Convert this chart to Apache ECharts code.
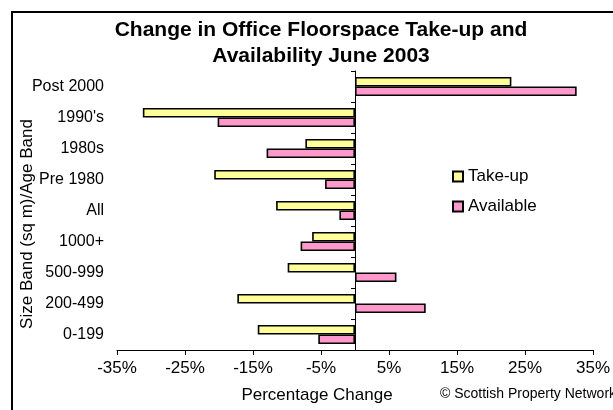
<!DOCTYPE html>
<html>
<head>
<meta charset="utf-8">
<script src="https://cdn.jsdelivr.net/npm/echarts@6/dist/echarts.min.js"></script>
<style>html,body{margin:0;padding:0;background:#fff;}#c{width:613px;height:410px;}</style>
</head>
<body>
<div id="c"></div>
<script>
const categories = ['0-199', '200-499', '500-999', '1000+', 'All', 'Pre 1980', '1980s', "1990's", 'Post 2000'];
const takeUp = [-14.3, -17.3, -9.9, -6.3, -11.6, -20.7, -7.3, -31.2, 23.0];
const available = [-5.4, 10.4, 6.1, -8.0, -2.3, -4.4, -13.0, -20.2, 32.6];
const tickLabels = ['-35%', '-25%', '-15%', '-5%', '5%', '15%', '25%', '35%'];

const FONT = "'Liberation Sans', Arial, sans-serif";
const chart = echarts.init(document.getElementById('c'), null, {renderer: 'canvas'});
chart.setOption({
  animation: false,
  backgroundColor: '#fff',
  textStyle: {fontFamily: FONT, color: '#000'},
  grid: {left: 117, right: 12, top: 71, bottom: 60, containLabel: false},
  xAxis: [
    {type: 'value', min: -35, max: 35, position: 'bottom',
     axisLine: {show: true, lineStyle: {color: '#000', width: 1}},
     axisTick: {show: false}, axisLabel: {show: false}, splitLine: {show: false}},
    {type: 'value', min: 0, max: 70, interval: 10, position: 'bottom',
     axisLine: {show: false},
     axisTick: {show: true, length: 5, lineStyle: {color: '#000', width: 1}},
     axisLabel: {fontSize: 17, color: '#000', fontFamily: FONT, margin: 10,
                 formatter: (v) => tickLabels[Math.round(v / 10)]},
     splitLine: {show: false}}
  ],
  yAxis: [
    {type: 'category', data: categories, position: 'left',
     axisLine: {show: false, onZero: false}, axisTick: {show: false},
     axisLabel: {fontSize: 16, color: '#000', fontFamily: FONT, margin: 13},
     splitLine: {show: false}},
    {type: 'category', data: categories, position: 'left',
     axisLine: {show: true, onZero: true, onZeroAxisIndex: 0, lineStyle: {color: '#000', width: 1}},
     axisTick: {show: true, length: 4, inside: false, lineStyle: {color: '#000'}},
     axisLabel: {show: false}, splitLine: {show: false}}
  ],
  legend: {
    orient: 'vertical', left: 447, top: 163, icon: 'rect', padding: 5,
    itemWidth: 10, itemHeight: 10, itemGap: 13,
    textStyle: {fontSize: 17, color: '#000', fontFamily: FONT},
    data: ['Take-up', 'Available']
  },
  series: [
    {name: 'Take-up', type: 'bar', xAxisIndex: 0, yAxisIndex: 0, data: takeUp,
     barCategoryGap: '38%', barGap: '0%',
     itemStyle: {color: '#FFFF99', borderColor: '#000', borderWidth: 1.6}},
    {name: 'Available', type: 'bar', xAxisIndex: 0, yAxisIndex: 0, data: available,
     barCategoryGap: '38%', barGap: '0%',
     itemStyle: {color: '#FF99CC', borderColor: '#000', borderWidth: 1.6}}
  ],
  graphic: [
    {type: 'polyline', shape: {points: [[12, 410], [12, 12], [613, 12]]},
     style: {stroke: '#000', lineWidth: 2, fill: null}},
    {type: 'text', x: 321, y: 30,
     style: {text: 'Change in Office Floorspace Take-up and', font: "bold 21px " + FONT,
             fill: '#000', textAlign: 'center', textVerticalAlign: 'middle'}},
    {type: 'text', x: 321, y: 56,
     style: {text: 'Availability June 2003', font: "bold 21px " + FONT,
             fill: '#000', textAlign: 'center', textVerticalAlign: 'middle'}},
    {type: 'text', x: 27, y: 224, rotation: Math.PI / 2,
     style: {text: 'Size Band (sq m)/Age Band', font: "17px " + FONT,
             fill: '#000', textAlign: 'center', textVerticalAlign: 'middle'}},
    {type: 'text', x: 317, y: 395,
     style: {text: 'Percentage Change', font: "17px " + FONT,
             fill: '#000', textAlign: 'center', textVerticalAlign: 'middle'}},
    {type: 'text', x: 440, y: 394,
     style: {text: '\u00A9 Scottish Property Network', font: "14px " + FONT,
             fill: '#000', textAlign: 'left', textVerticalAlign: 'middle'}}
  ]
});
</script>
</body>
</html>
